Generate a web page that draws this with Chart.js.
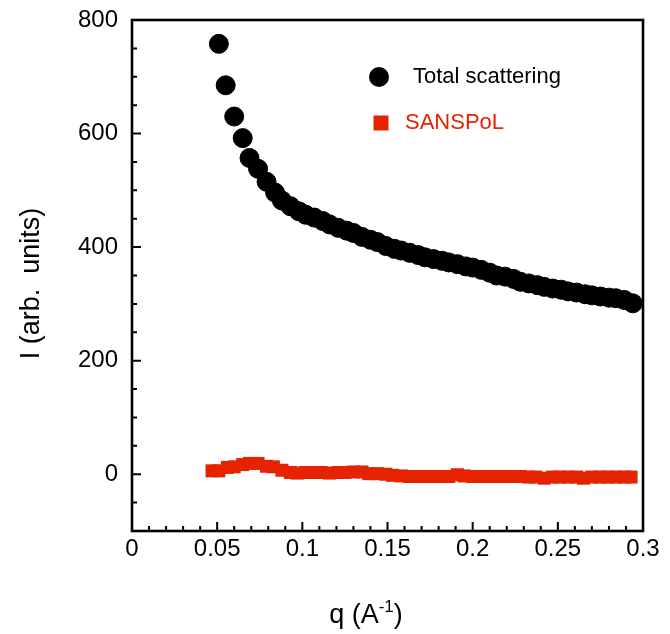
<!DOCTYPE html>
<html>
<head>
<meta charset="utf-8">
<script src="https://cdn.jsdelivr.net/npm/chart.js@4.4.1/dist/chart.umd.min.js"></script>
<style>
  html, body { margin: 0; padding: 0; background: #fff; }
  #wrap { width: 670px; height: 634px; }
</style>
</head>
<body>
<div id="wrap"><canvas id="scatterChart" width="670" height="634"></canvas></div>
<script>
// q values (A^-1) and intensities
const qTotal = [0.051, 0.055, 0.060, 0.065, 0.069, 0.074, 0.079, 0.084, 0.088, 0.093,
                0.098, 0.102, 0.107, 0.112, 0.116, 0.121, 0.126, 0.130, 0.135, 0.140,
                0.144, 0.149, 0.154, 0.158, 0.163, 0.168, 0.172, 0.177, 0.182, 0.186,
                0.191, 0.196, 0.200, 0.205, 0.210, 0.214, 0.219, 0.224, 0.228, 0.233,
                0.238, 0.242, 0.247, 0.252, 0.256, 0.261, 0.266, 0.270, 0.275, 0.280,
                0.284, 0.289, 0.294];
const iTotal = [758, 685, 630, 592, 557, 538, 515, 496, 482, 472,
                463, 457, 452, 446, 440, 434, 429, 425, 418, 413,
                409, 402, 397, 394, 390, 386, 382, 379, 376, 373,
                370, 366, 364, 360, 355, 350, 348, 344, 339, 336,
                333, 330, 327, 325, 322, 320, 317, 315, 313, 311,
                310, 307, 301];

const qPol = [0.047, 0.051, 0.056, 0.060, 0.065, 0.069, 0.074, 0.079, 0.083, 0.088,
              0.093, 0.097, 0.102, 0.107, 0.111, 0.116, 0.121, 0.125, 0.130, 0.135,
              0.139, 0.144, 0.149, 0.153, 0.158, 0.163, 0.167, 0.172, 0.177, 0.181,
              0.186, 0.191, 0.195, 0.200, 0.205, 0.209, 0.214, 0.219, 0.223, 0.228,
              0.233, 0.237, 0.242, 0.247, 0.251, 0.256, 0.261, 0.265, 0.270, 0.275,
              0.279, 0.284, 0.289, 0.293];
const iPol = [6, 6, 12, 13, 17, 19, 19, 14, 13, 7,
              3, 2, 3, 3, 3, 2, 3, 3, 4, 4,
              1, 1, 0, -2, -3, -4, -4, -4, -4, -4,
              -4, -1, -3, -4, -4, -4, -4, -4, -4, -4,
              -5, -5, -7, -5, -5, -5, -5, -7, -5, -5,
              -5, -5, -5, -5];

const seriesNames = ['Total scattering', 'SANSPoL'];
const xTickLabels = [0, 0.05, 0.1, 0.15, 0.2, 0.25, 0.3];
const yTickLabels = [0, 200, 400, 600, 800];

const FONT = "'Liberation Sans', Arial, Helvetica, sans-serif";
const RED = '#e62300';

const toPoints = (xs, ys) => xs.map((q, i) => ({ x: q, y: ys[i] }));

// frame, inward ticks, axis titles and legend, Origin style
const decorPlugin = {
    id: 'decor',
    afterDraw(chart) {
        const { ctx, chartArea: a, scales: { x, y } } = chart;
        ctx.save();
        ctx.strokeStyle = '#000';
        ctx.lineWidth = 2;
        ctx.beginPath();
        for (let i = 0; i <= 30; i++) {
            const px = x.getPixelForValue(i / 100);
            const len = i % 5 === 0 ? 9 : 5;
            ctx.moveTo(px, a.bottom);
            ctx.lineTo(px, a.bottom - len);
        }
        for (let v = -100; v <= 800; v += 50) {
            const py = y.getPixelForValue(v);
            const len = v % 200 === 0 ? 9 : 5;
            ctx.moveTo(a.left, py);
            ctx.lineTo(a.left + len, py);
        }
        ctx.stroke();

        ctx.lineWidth = 2.6;
        ctx.strokeRect(a.left, a.top, a.right - a.left, a.bottom - a.top);

        // y title
        ctx.fillStyle = '#000';
        ctx.font = '27px ' + FONT;
        ctx.textAlign = 'center';
        ctx.textBaseline = 'middle';
        ctx.save();
        ctx.translate(32, (a.top + a.bottom) / 2 + 8);
        ctx.rotate(-Math.PI / 2);
        ctx.fillText('I (arb.  units)', 0, 0);
        ctx.restore();

        // x title with superscript
        ctx.textAlign = 'left';
        ctx.textBaseline = 'alphabetic';
        const main = 'q (A', sup = '-1', close = ')';
        ctx.font = '27px ' + FONT;
        const w1 = ctx.measureText(main).width;
        const w3 = ctx.measureText(close).width;
        ctx.font = '17px ' + FONT;
        const w2 = ctx.measureText(sup).width;
        const tx = 366 - (w1 + w2 + w3) / 2;
        const base = 623;
        ctx.font = '27px ' + FONT;
        ctx.fillText(main, tx, base);
        ctx.font = '17px ' + FONT;
        ctx.fillText(sup, tx + w1, base - 11);
        ctx.font = '27px ' + FONT;
        ctx.fillText(close, tx + w1 + w2, base);

        // legend
        ctx.font = '22px ' + FONT;
        ctx.textBaseline = 'middle';
        ctx.fillStyle = '#000';
        ctx.beginPath();
        ctx.arc(a.left + 247, a.top + 57, 10, 0, Math.PI * 2);
        ctx.fill();
        ctx.fillText(seriesNames[0], a.left + 281, a.top + 57);
        ctx.fillStyle = RED;
        ctx.fillRect(a.left + 249 - 7.5, a.top + 103 - 7.5, 15, 15);
        ctx.fillText(seriesNames[1], a.left + 273, a.top + 103);
        ctx.restore();
    }
};

new Chart(document.getElementById('scatterChart'), {
    type: 'scatter',
    data: {
        datasets: [{
            label: seriesNames[0],
            data: toPoints(qTotal, iTotal),
            pointStyle: 'circle',
            pointRadius: 9.5,
            pointBorderWidth: 1,
            backgroundColor: '#000',
            borderColor: '#000'
        }, {
            label: seriesNames[1],
            data: toPoints(qPol, iPol),
            pointStyle: 'rect',
            pointRadius: 9.2,
            pointBorderWidth: 0,
            backgroundColor: RED,
            borderColor: RED
        }]
    },
    options: {
        responsive: false,
        animation: false,
        layout: { padding: { top: 20, right: 27, left: 0, bottom: 0 } },
        plugins: {
            legend: { display: false },
            tooltip: { enabled: false }
        },
        scales: {
            x: {
                type: 'linear',
                min: 0,
                max: 0.3,
                afterBuildTicks: s => { s.ticks = xTickLabels.map(v => ({ value: v })); },
                afterFit: s => { s.height = 103; s.paddingLeft = 0; s.paddingRight = 0; },
                grid: { display: false, drawTicks: false },
                border: { display: false },
                ticks: {
                    color: '#000',
                    padding: 4,
                    maxRotation: 0,
                    autoSkip: false,
                    font: { family: FONT, size: 24 },
                    callback: v => String(v)
                }
            },
            y: {
                type: 'linear',
                min: -100,
                max: 800,
                afterBuildTicks: s => { s.ticks = yTickLabels.map(v => ({ value: v })); },
                afterFit: s => { s.width = 132; s.paddingTop = 0; s.paddingBottom = 0; },
                grid: { display: false, drawTicks: false },
                border: { display: false },
                ticks: {
                    color: '#000',
                    padding: 14,
                    autoSkip: false,
                    font: { family: FONT, size: 24 },
                    callback: v => String(v)
                }
            }
        }
    },
    plugins: [decorPlugin]
});
</script>
</body>
</html>
